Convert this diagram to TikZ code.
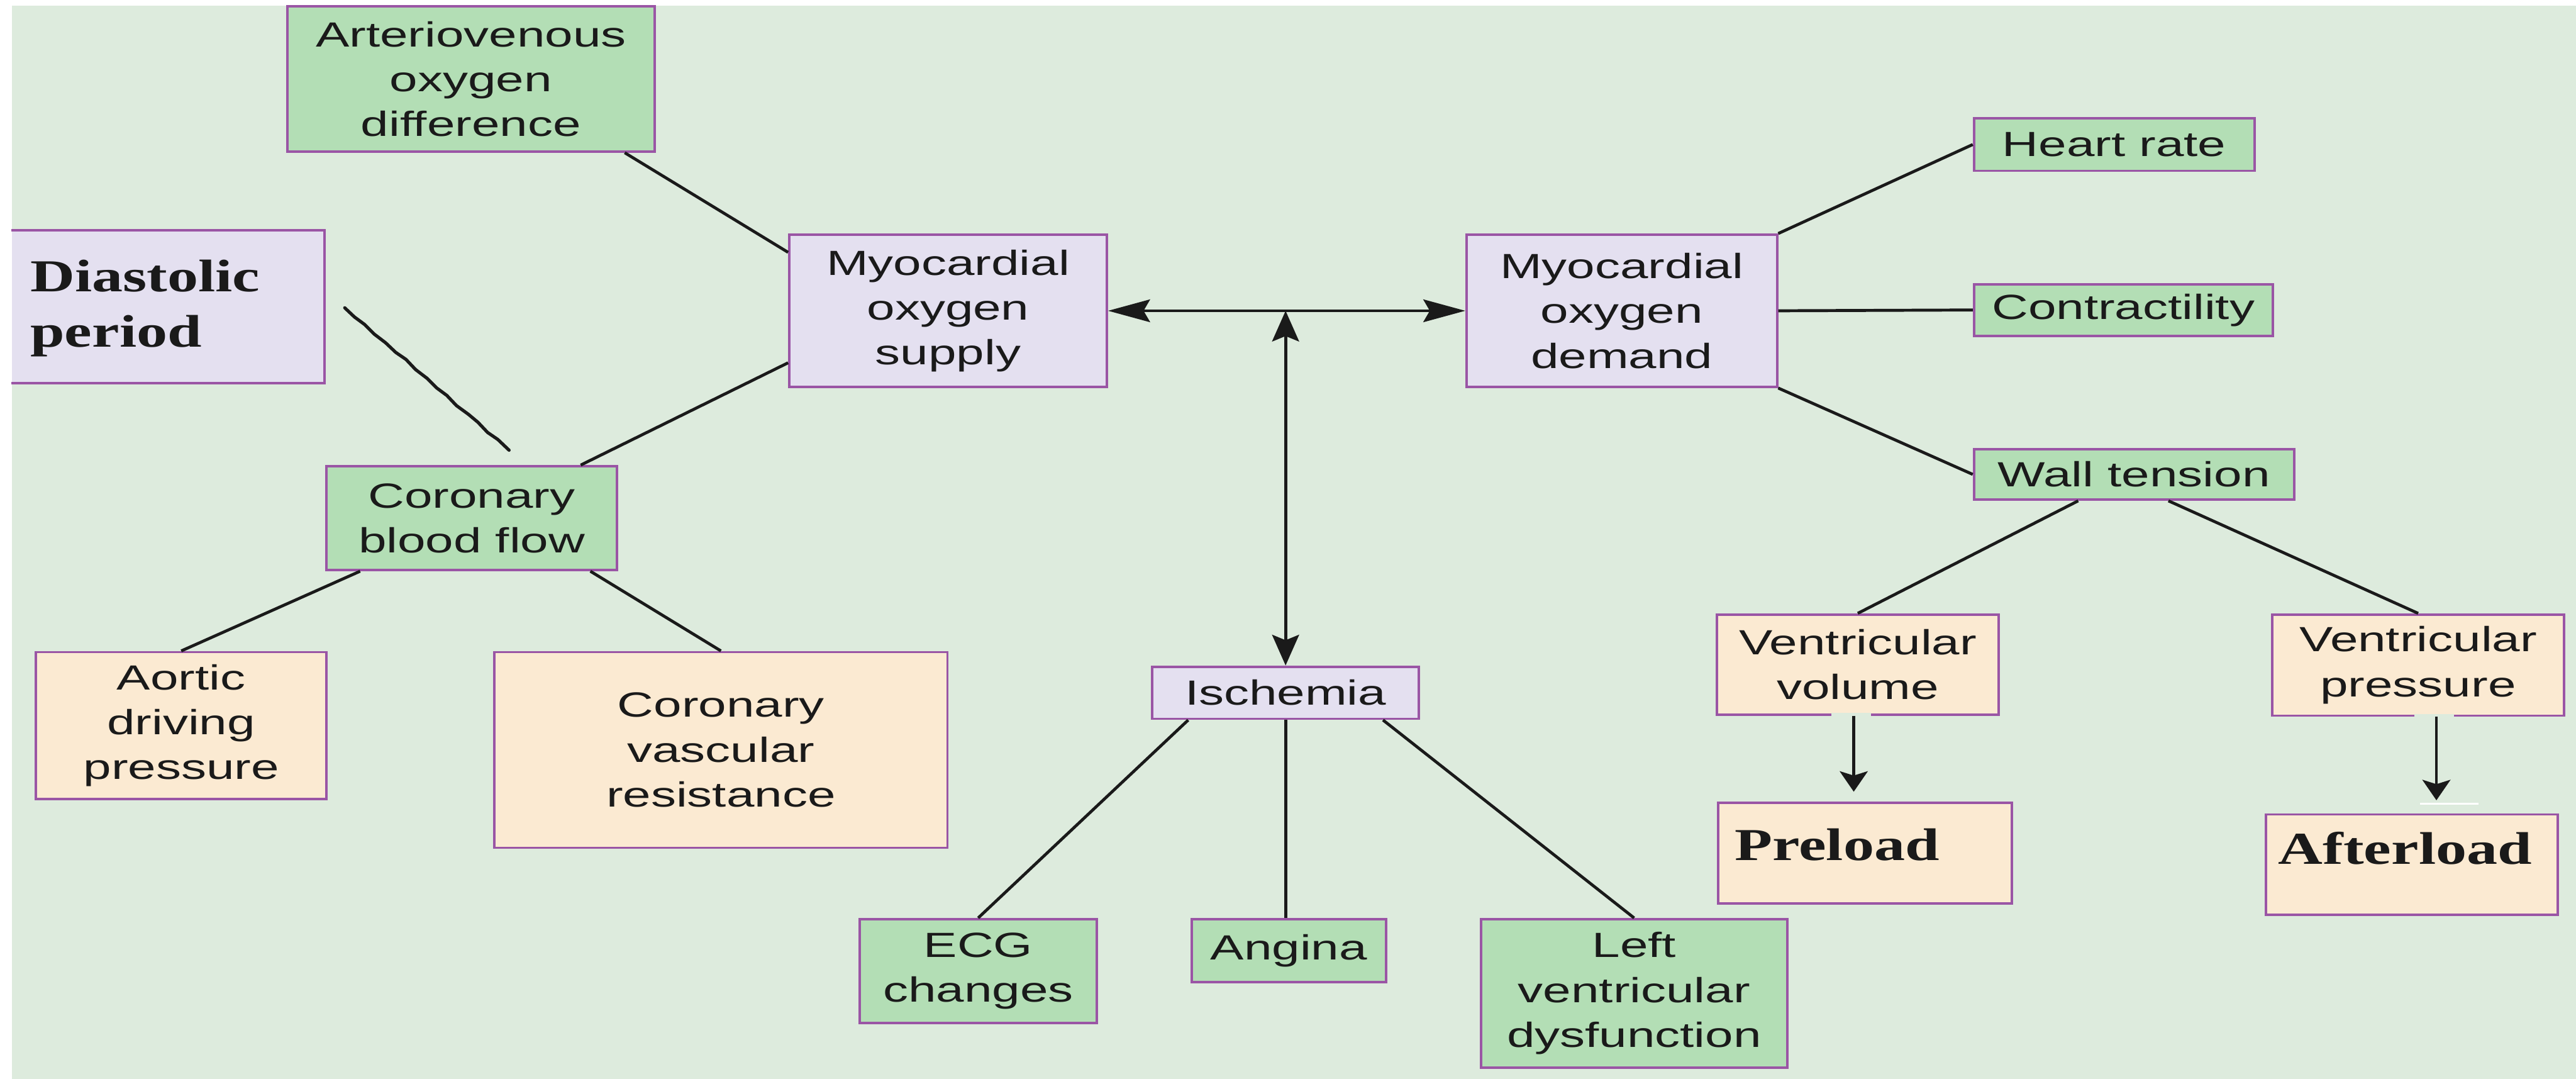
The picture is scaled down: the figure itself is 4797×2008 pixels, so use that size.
\documentclass[tikz,border=0pt]{standalone}
\usepackage{fontspec}
\setmainfont{Liberation Sans}[FakeStretch=1.44]
\newfontfamily\headfont{Liberation Serif}[FakeStretch=1.35]
\usetikzlibrary{arrows.meta,calc}

\definecolor{bgc}{HTML}{DDEBDD}
\definecolor{gfill}{HTML}{B3DEB5}
\definecolor{lfill}{HTML}{E4E0F0}
\definecolor{pfill}{HTML}{FBEAD2}
\definecolor{bord}{HTML}{9A55A5}
\definecolor{ink}{HTML}{1A1A1A}

\tikzset{
  box/.style={draw=bord, line width=0.045cm, inner sep=0pt, align=center, text=ink,
              font=\fontsize{18.5}{23.75}\selectfont},
  gbox/.style={box, fill=gfill},
  lbox/.style={box, fill=lfill},
  pbox/.style={box, fill=pfill},
  wh/.style 2 args={minimum width=#1cm, minimum height=#2cm},
  conn/.style={line width=0.055cm, draw=ink},
  bigtxt/.style={inner sep=0pt, anchor=base west, text=ink,
                 font=\headfont\bfseries\fontsize{24.2}{29.3}\selectfont},
  bighead/.tip={Stealth[length=0.78cm, width=0.42cm, inset=0.12cm]},
  vhead/.tip={Stealth[length=0.57cm, width=0.50cm, inset=0.10cm]},
  smallhead/.tip={Stealth[length=0.38cm, width=0.52cm, inset=0.08cm]},
}

\begin{document}
\begin{tikzpicture}[x=0.01cm, y=-0.01cm]
  \useasboundingbox (0,0) rectangle (4797,2008);
  \fill[bgc] (22,10) rectangle (4797,2008);

  % supply side
  \node[gbox, wh={6.84}{2.70}] (av) at (877,147) {Arteriovenous\\oxygen\\difference};
  \node[fill=lfill, inner sep=0pt, wh={5.81}{2.83}] (dia) at (312.5,570.5) {};
  \draw[bord, line width=0.045cm] (dia.north west) -- (dia.north east) -- (dia.south east) -- (dia.south west);
  \node[bigtxt] (diaA) at (56,543) {Diastolic};
  \node[bigtxt] (diaB) at (56,646) {period};
  \node[lbox, wh={5.91}{2.83}] (sup) at (1765.5,578.5) {Myocardial\\oxygen\\supply};
  \node[gbox, wh={5.41}{1.93}] (cbf) at (878.5,964.5) {Coronary\\blood flow};
  \node[pbox, wh={5.41}{2.73}] (aor) at (337.5,1350.5) {Aortic\\driving\\pressure};
  \node[pbox, wh={8.43}{3.64}] (cvr) at (1342.5,1396) {Coronary\\vascular\\resistance};

  % demand side
  \node[lbox, wh={5.78}{2.83}] (dem) at (3020,578.5) {Myocardial\\oxygen\\demand};
  \node[gbox, wh={5.22}{0.98}] (hr) at (3937,269) {Heart rate};
  \node[gbox, wh={5.56}{0.96}] (con) at (3954,577) {Contractility};
  \node[gbox, wh={5.96}{0.94}] (wt) at (3974,883) {Wall tension};
  \node[pbox, wh={5.25}{1.86}] (vv) at (3459.5,1237) {Ventricular\\volume};
  \node[pbox, wh={5.44}{1.88}] (vp) at (4503,1238) {Ventricular\\pressure};
  \node[pbox, wh={5.46}{1.88}] (pre) at (3473,1588) {};
  \node[bigtxt] (preT) at (3230,1601) {Preload};
  \node[pbox, wh={5.43}{1.87}] (aft) at (4491.5,1609.5) {};
  \node[bigtxt] (aftT) at (4242,1608) {Afterload};

  % ischemia and its effects
  \node[lbox, wh={4.96}{0.97}] (isch) at (2394,1289.5) {Ischemia};
  \node[gbox, wh={4.41}{1.93}] (ecg) at (1821.5,1807.5) {ECG\\changes};
  \node[gbox, wh={3.62}{1.17}] (ang) at (2400,1769.5) {Angina};
  \node[gbox, wh={5.70}{2.76}] (lvd) at (3043,1849) {Left\\ventricular\\dysfunction};

  % connectors, supply side
  \draw[conn] ([xshift=-0.58cm]av.south east) -- ([yshift=-0.35cm]sup.north west);
  \draw[conn] ([yshift=0.47cm]sup.south west) -- ([xshift=-0.70cm]cbf.north east);
  \draw[conn] ([xshift=0.65cm]cbf.south west) -- (aor.north);
  \draw[conn] ([xshift=-0.52cm]cbf.south east) -- (cvr.north);

  % hand-drawn stroke from the diastolic period box
  \draw[ink, line width=0.06cm, line join=round, line cap=round]
    (642,573) -- (660,590) -- (679,604) -- (697,622) -- (718,638) -- (737,656)
    -- (756,669) -- (774,688) -- (795,704) -- (813,722) -- (832,736) -- (850,755)
    -- (872,771) -- (890,786) -- (908,805) -- (927,818) -- (948,838);

  % supply / demand balance and ischemia
  \draw[conn, bighead-bighead] (sup.east) -- (dem.west);
  \coordinate (jn) at (isch.north |- sup.east);
  \draw[conn, vhead-vhead] (jn) -- (isch.north);

  % connectors, demand side
  \draw[conn] (dem.north east) -- (hr.west);
  \draw[conn] (dem.east) -- (con.west);
  \draw[conn] (dem.south east) -- (wt.west);
  \draw[conn] ([xshift=-1.04cm]wt.south) -- (vv.north);
  \draw[conn] ([xshift=0.64cm]wt.south) -- (vp.north);

  % openings in the box borders where the arrows leave
  \draw[bgc, line width=0.065cm] (3410,1330) -- (3484,1330);
  \draw[bgc, line width=0.065cm] (4496,1332) -- (4570,1332);
  \draw[white, line width=0.035cm] (4507,1496) -- (4615,1496);

  \coordinate (vvs) at ([xshift=-0.075cm]vv.south);
  \coordinate (vps) at ([xshift=0.34cm]vp.south);
  \draw[conn, -smallhead, shorten >=0.18cm] (vvs) -- (vvs |- pre.north);
  \draw[conn, -smallhead, shorten >=0.24cm] (vps) -- (vps |- aft.north);

  % connectors, ischemia effects
  \draw[conn] ([xshift=0.69cm]isch.south west) -- (ecg.north);
  \draw[conn] (isch.south) -- (isch.south |- ang.north);
  \draw[conn] ([xshift=-0.69cm]isch.south east) -- (lvd.north);
\end{tikzpicture}
\end{document}
